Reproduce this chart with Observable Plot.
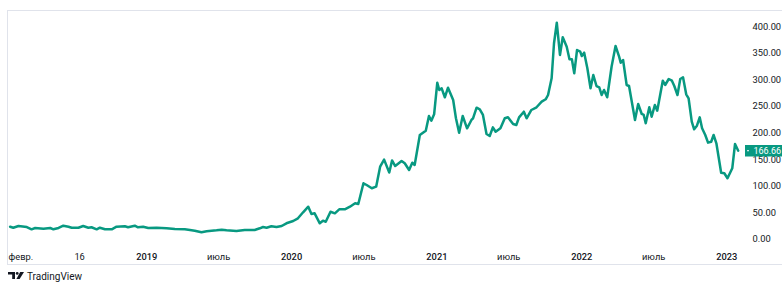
<!DOCTYPE html>
<html>
<head>
<meta charset="utf-8">
<script src="https://cdn.jsdelivr.net/npm/d3@7"></script>
<script src="https://cdn.jsdelivr.net/npm/@observablehq/plot@0.6"></script>
<style>
  html, body { margin: 0; padding: 0; background: #ffffff; }
  #chart { width: 782px; height: 268px; }
  #logo { height: 16px; display: flex; align-items: center; padding-left: 8px; font: 10px Roboto, sans-serif; color: #131722; }
  #logo svg { margin-right: 3px; }
</style>
</head>
<body>
<div id="chart"></div>
<div id="logo"><svg width="16" height="8" viewBox="0 0 16 8"><path d="M0 0H7V7H4.2V2.6H0Z" fill="#131722"/><circle cx="9.2" cy="1.4" r="1.4" fill="#131722"/><path d="M12.2 0H16L11.6 7H8.4Z" fill="#131722"/></svg><span>TradingView</span></div>
<script>
const dates = [
"2018-01-22","2018-01-30","2018-02-12","2018-03-05","2018-03-17","2018-03-26","2018-04-16","2018-05-03","2018-05-11","2018-05-24","2018-06-05","2018-06-18","2018-06-26","2018-07-13","2018-07-25","2018-08-07","2018-08-15","2018-08-28","2018-09-05","2018-09-18","2018-10-05","2018-10-17","2018-11-07","2018-11-15","2018-12-02","2018-12-10","2018-12-23",
"2019-01-05","2019-01-26","2019-02-20","2019-03-13","2019-04-07","2019-04-20","2019-05-02","2019-05-19","2019-06-01","2019-06-26","2019-07-09","2019-07-21","2019-08-15","2019-09-05","2019-09-30","2019-10-13","2019-10-21","2019-10-30","2019-11-11","2019-11-24","2019-12-07","2019-12-19",
"2020-01-05","2020-01-17","2020-01-30","2020-02-12","2020-02-20","2020-02-28","2020-03-12","2020-03-20","2020-03-27","2020-04-08","2020-04-19","2020-04-30","2020-05-14","2020-05-27","2020-06-09","2020-06-17","2020-06-30","2020-07-08","2020-07-21","2020-08-01","2020-08-11","2020-08-21","2020-09-03","2020-09-10","2020-09-18","2020-10-04","2020-10-12","2020-10-23","2020-10-31","2020-11-06","2020-11-19","2020-12-04","2020-12-12","2020-12-18","2020-12-25",
"2021-01-02","2021-01-07","2021-01-13","2021-01-21","2021-01-29","2021-02-11","2021-02-18","2021-02-26","2021-03-07","2021-03-18","2021-03-29","2021-04-02","2021-04-11","2021-04-19","2021-04-27","2021-05-06","2021-05-14","2021-05-22","2021-05-29","2021-06-10","2021-06-21","2021-06-29","2021-07-12","2021-07-20","2021-07-27","2021-08-08","2021-08-15","2021-08-27","2021-09-09","2021-09-22","2021-10-02","2021-10-08","2021-10-17","2021-10-23","2021-10-30","2021-11-07","2021-11-14","2021-11-24","2021-12-01","2021-12-07","2021-12-13","2021-12-20","2021-12-28",
"2022-01-01","2022-01-07","2022-01-15","2022-01-23","2022-01-30","2022-02-07","2022-02-14","2022-02-20","2022-02-26","2022-03-06","2022-03-17","2022-03-27","2022-04-05","2022-04-09","2022-04-15","2022-04-24","2022-04-30","2022-05-15","2022-05-23","2022-06-01","2022-06-06","2022-06-11","2022-06-20","2022-06-26","2022-07-04","2022-07-10","2022-07-24","2022-07-30","2022-08-08","2022-08-16","2022-08-22","2022-08-30","2022-09-06","2022-09-13","2022-09-21","2022-09-27","2022-10-05","2022-10-11","2022-10-18","2022-10-25","2022-10-31","2022-11-08","2022-11-15","2022-11-23","2022-11-29","2022-12-06","2022-12-18","2022-12-26",
"2023-01-03","2023-01-15","2023-01-22","2023-01-30"
];
const values = [
23.7,21.8,25.0,23.1,18.8,21.3,19.9,21.3,18.8,21.3,25.6,23.7,21.8,21.8,25.0,21.8,22.6,18.8,21.8,18.8,18.8,23.7,24.5,22.6,25.6,22.6,23.7,
21.3,21.8,20.7,19.4,18.8,17.5,16.2,13.2,15.1,16.9,18.1,16.9,15.6,17.5,17.5,20.7,23.1,21.8,24.5,23.1,25.0,30.1,
34.4,39.5,50.8,61.3,47.6,48.9,30.1,35.0,33.1,51.9,48.9,56.4,56.4,61.3,67.7,66.4,105.4,102.2,96.0,99.0,136.6,149.9,125.7,148.3,137.9,147.3,143.0,130.4,144.1,139.8,196.2,204.3,232.0,223.1,235.2,
294.6,280.9,284.1,267.2,285.2,262.1,227.7,200.6,232.0,208.8,224.5,227.7,247.6,244.6,233.9,198.1,194.4,210.7,202.4,208.8,227.7,229.5,216.9,215.1,229.5,240.1,227.7,243.3,248.4,258.9,263.4,271.5,302.9,368.8,407.5,346.8,380.1,362.4,338.7,338.7,312.3,356.2,353.0,
344.9,351.1,321.7,284.1,309.1,288.4,286.0,271.5,280.9,267.2,324.7,363.7,343.6,332.3,337.4,290.3,288.4,224.5,254.6,235.8,233.9,218.3,248.4,230.7,252.7,242.0,298.4,290.3,301.6,298.4,288.4,271.5,301.6,304.8,272.8,265.3,221.3,207.0,213.7,229.5,208.8,196.2,181.8,183.6,196.2,180.6,125.3,124.2,
114.8,133.6,179.3,166.66
];
const yTicks = [0, 50, 100, 150, 200, 250, 300, 350, 400];
const xTickDates = ["2018-02-18","2018-07-16","2019-01-01","2019-07-01","2020-01-01","2020-07-01","2021-01-01","2021-07-01","2022-01-01","2022-07-01","2023-01-01"];
const xTickLabels = ["февр.","16","2019","июль","2020","июль","2021","июль","2022","июль","2023"];
const xTickMajor = [false,false,true,false,true,false,true,false,true,false,true];
const lastValue = values[values.length - 1];

const data = dates.map((d, i) => ({date: new Date(d), value: values[i]}));
const ticks = xTickDates.map((d, i) => ({date: new Date(d), label: xTickLabels[i], major: xTickMajor[i]}));

const green = "#089981";
const textColor = "#131722";

const chart = Plot.plot({
  width: 782,
  height: 268,
  marginTop: 10,
  marginLeft: 7,
  marginRight: -1,
  marginBottom: 4,
  style: {font: "9.3px Roboto, sans-serif", background: "#ffffff", color: textColor},
  x: {type: "utc", domain: [new Date("2019-01-01"), new Date("2023-01-01")], range: [146.2, 726.2], axis: null},
  y: {domain: [0, 400], range: [238.8, 26.2], axis: null},
  marks: [
    Plot.frame({stroke: "#e0e3eb"}),
    Plot.line(data, {x: "date", y: "value", stroke: green, strokeWidth: 2.5, strokeLinejoin: "round", strokeLinecap: "round"}),
    Plot.text(yTicks, {y: d => d, text: d => d.toFixed(2), frameAnchor: "right", dx: -31, textAnchor: "start", fill: textColor}),
    Plot.text(ticks.filter(d => !d.major), {x: "date", text: "label", frameAnchor: "bottom", lineAnchor: "middle", dy: -7.5, fill: textColor}),
    Plot.text(ticks.filter(d => d.major), {x: "date", text: "label", frameAnchor: "bottom", lineAnchor: "middle", dy: -7.5, fill: textColor, fontWeight: 500}),
    Plot.ruleY([lastValue], {stroke: green, strokeWidth: 11.5, insetLeft: 738}),
    Plot.ruleY([lastValue], {stroke: "#ffffff", strokeWidth: 1, insetLeft: 740, insetRight: 34}),
    Plot.text([lastValue], {y: d => d, text: d => d.toFixed(2), frameAnchor: "right", dx: -30, textAnchor: "start", fill: "#ffffff", fontSize: 9})
  ]
});
document.getElementById("chart").appendChild(chart);
</script>
</body>
</html>
